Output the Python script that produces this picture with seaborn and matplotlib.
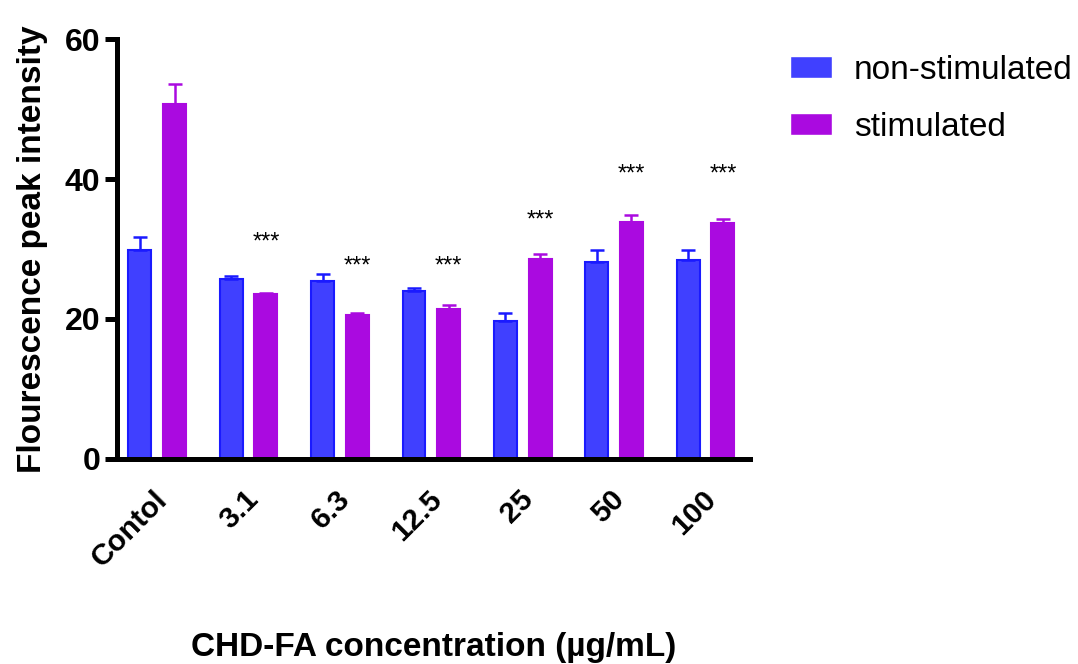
import numpy as np
import pandas as pd
import matplotlib
matplotlib.use("Agg")
import matplotlib.pyplot as plt
from matplotlib.transforms import ScaledTranslation
import seaborn as sns

categories = ["Contol", "3.1", "6.3", "12.5", "25", "50", "100"]
groups = ["non-stimulated", "stimulated"]
non_stim = [29.9, 25.7, 25.4, 24.0, 19.7, 28.1, 28.4]
non_stim_err = [1.8, 0.5, 1.0, 0.4, 1.2, 1.8, 1.4]
stim = [50.7, 23.5, 20.6, 21.4, 28.6, 33.9, 33.7]
stim_err = [2.9, 0.2, 0.2, 0.6, 0.7, 1.0, 0.6]
star_labels = ["", "***", "***", "***", "***", "***", "***"]
star_y = [0, 30.9, 27.5, 27.5, 34.1, 40.7, 40.7]

sns.set_style("ticks")
plt.rcParams["font.family"] = ["Liberation Sans", "DejaVu Sans"]
plt.rcParams["text.color"] = "black"
plt.rcParams["axes.labelcolor"] = "black"
plt.rcParams["xtick.color"] = "black"
plt.rcParams["ytick.color"] = "black"
plt.rcParams["axes.edgecolor"] = "black"

df = pd.DataFrame({
    "conc": categories * 2,
    "group": [groups[0]] * len(categories) + [groups[1]] * len(categories),
    "value": non_stim + stim,
})

fill = {"non-stimulated": "#4040FF", "stimulated": "#AA0AE0"}
edge = ["#1A1AFF", "#AA0AE0"]

fig = plt.figure(figsize=(10.78, 6.64), dpi=100)
ax = fig.add_axes([0.1085, 0.309, 0.5875, 0.632])

sns.barplot(data=df, x="conc", y="value", hue="group", order=categories,
            hue_order=groups, palette=fill, width=0.76, gap=0.34,
            errorbar=None, saturation=1, ax=ax, legend=True)

errs = [non_stim_err, stim_err]
bar_conts = list(ax.containers)
for i, cont in enumerate(bar_conts):
    xs = [p.get_x() + p.get_width() / 2 for p in cont.patches]
    hs = [p.get_height() for p in cont.patches]
    for p in cont.patches:
        p.set_edgecolor(edge[i])
        p.set_linewidth(1.5)
    ax.errorbar(xs, hs, yerr=[np.zeros(len(hs)), errs[i]], fmt="none",
                ecolor=edge[i], elinewidth=1.8, capsize=5, capthick=1.8, zorder=1)
    if i == 1:
        for x, lab, y in zip(xs, star_labels, star_y):
            if lab:
                ax.text(x, y, lab, ha="center", va="center", fontsize=17, color="black")

ax.set_ylim(0, 60)
ax.set_xlim(-0.44, 6.49)
ax.set_yticks([0, 20, 40, 60])
for s in ["top", "right"]:
    ax.spines[s].set_visible(False)
for s in ["left", "bottom"]:
    ax.spines[s].set_linewidth(3.6)
ax.tick_params(axis="y", length=9, width=3.6, labelsize=23, pad=3)
ax.tick_params(axis="x", length=0, labelsize=21, pad=19)
for t in ax.get_yticklabels():
    t.set_fontweight("bold")
ax.set_xticks(range(len(categories)))
ax.set_xticklabels(categories, rotation=45, ha="right", rotation_mode="anchor",
                   fontweight="bold", fontsize=21.5)
shift = ScaledTranslation(-4 / 100, 0, fig.dpi_scale_trans)
for t in ax.get_xticklabels():
    t.set_transform(t.get_transform() + shift)
ax.set_ylabel("Flourescence peak intensity", fontsize=24, fontweight="bold", labelpad=12)
ax.set_xlabel("CHD-FA concentration (µg/mL)", fontsize=24, fontweight="bold")
ax.xaxis.set_label_coords(0.5, (459 - 632) / 420)

ax.legend(loc="upper left", bbox_to_anchor=(790 / 1078, 1 - 55 / 664),
          bbox_transform=fig.transFigure, frameon=False, borderpad=0, borderaxespad=0,
          fontsize=24, handlelength=1.27, handleheight=0.64, labelspacing=0.78,
          handletextpad=0.64)

fig.savefig("out.png", dpi=100)
